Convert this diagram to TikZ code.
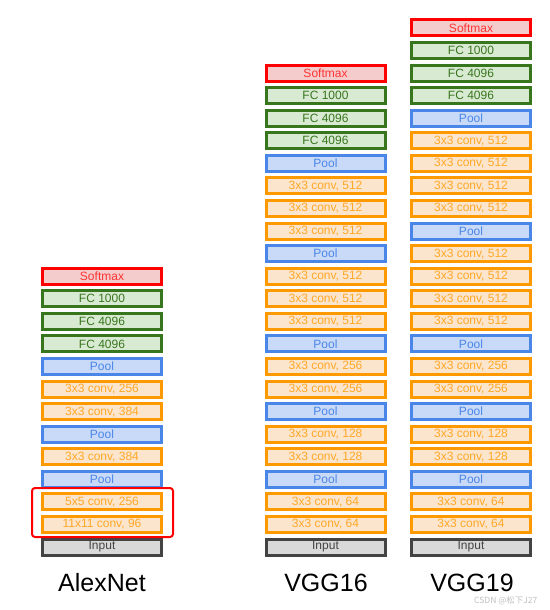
\documentclass[tikz,border=0pt]{standalone}
\usepackage{fontspec}
\setmainfont{Liberation Sans}
\newfontfamily\cjk{Noto Sans CJK SC}
\definecolor{convB}{HTML}{FF9900}
\definecolor{convF}{HTML}{FCE5CD}
\definecolor{poolB}{HTML}{4A86E8}
\definecolor{poolF}{HTML}{C9DAF8}
\definecolor{fcB}{HTML}{38761D}
\definecolor{fcF}{HTML}{D9EAD3}
\definecolor{smB}{HTML}{FF0000}
\definecolor{smF}{HTML}{F4CCCC}
\definecolor{inB}{HTML}{434343}
\definecolor{inF}{HTML}{D9D9D9}
\tikzset{
  layer/.style={rectangle, line width=3pt, minimum width=119pt, minimum height=16pt,
    inner sep=0pt, font=\fontsize{12}{12}\selectfont},
  conv/.style={layer, draw=convB, fill=convF, text=convB!85!white},
  pool/.style={layer, draw=poolB, fill=poolF, text=poolB},
  fc/.style={layer, draw=fcB, fill=fcF, text=fcB},
  soft/.style={layer, draw=smB, fill=smF, text=smB!80!white},
  inp/.style={layer, draw=inB, fill=inF, text=inB},
  title/.style={font=\fontsize{25}{25}\selectfont, text=black, inner sep=0pt},
  hilite/.style={rectangle, draw=red, line width=2pt, rounded corners=3pt,
    minimum width=141pt, minimum height=49pt, inner sep=0pt},
  wmark/.style={font=\cjk\fontsize{8.5}{8.5}\selectfont, text=black!25, inner sep=0pt, anchor=west}
}
\newcommand\lyr[5]{\node[#4] (#1) at (#2,{547-22.57*#3}) {#5};}
\begin{document}
\begin{tikzpicture}[x=1pt,y=-1pt]
\useasboundingbox (0,0) rectangle (549,610);
% AlexNet
\lyr{a0}{102}{0}{inp}{Input}
\lyr{a1}{102}{1}{conv}{11x11 conv, 96}
\lyr{a2}{102}{2}{conv}{5x5 conv, 256}
\lyr{a3}{102}{3}{pool}{Pool}
\lyr{a4}{102}{4}{conv}{3x3 conv, 384}
\lyr{a5}{102}{5}{pool}{Pool}
\lyr{a6}{102}{6}{conv}{3x3 conv, 384}
\lyr{a7}{102}{7}{conv}{3x3 conv, 256}
\lyr{a8}{102}{8}{pool}{Pool}
\lyr{a9}{102}{9}{fc}{FC 4096}
\lyr{a10}{102}{10}{fc}{FC 4096}
\lyr{a11}{102}{11}{fc}{FC 1000}
\lyr{a12}{102}{12}{soft}{Softmax}
\node[hilite] (hl) at (102.5,512.5) {};
% VGG16
\lyr{v0}{325.5}{0}{inp}{Input}
\lyr{v1}{325.5}{1}{conv}{3x3 conv, 64}
\lyr{v2}{325.5}{2}{conv}{3x3 conv, 64}
\lyr{v3}{325.5}{3}{pool}{Pool}
\lyr{v4}{325.5}{4}{conv}{3x3 conv, 128}
\lyr{v5}{325.5}{5}{conv}{3x3 conv, 128}
\lyr{v6}{325.5}{6}{pool}{Pool}
\lyr{v7}{325.5}{7}{conv}{3x3 conv, 256}
\lyr{v8}{325.5}{8}{conv}{3x3 conv, 256}
\lyr{v9}{325.5}{9}{pool}{Pool}
\lyr{v10}{325.5}{10}{conv}{3x3 conv, 512}
\lyr{v11}{325.5}{11}{conv}{3x3 conv, 512}
\lyr{v12}{325.5}{12}{conv}{3x3 conv, 512}
\lyr{v13}{325.5}{13}{pool}{Pool}
\lyr{v14}{325.5}{14}{conv}{3x3 conv, 512}
\lyr{v15}{325.5}{15}{conv}{3x3 conv, 512}
\lyr{v16}{325.5}{16}{conv}{3x3 conv, 512}
\lyr{v17}{325.5}{17}{pool}{Pool}
\lyr{v18}{325.5}{18}{fc}{FC 4096}
\lyr{v19}{325.5}{19}{fc}{FC 4096}
\lyr{v20}{325.5}{20}{fc}{FC 1000}
\lyr{v21}{325.5}{21}{soft}{Softmax}
% VGG19
\lyr{w0}{471}{0}{inp}{Input}
\lyr{w1}{471}{1}{conv}{3x3 conv, 64}
\lyr{w2}{471}{2}{conv}{3x3 conv, 64}
\lyr{w3}{471}{3}{pool}{Pool}
\lyr{w4}{471}{4}{conv}{3x3 conv, 128}
\lyr{w5}{471}{5}{conv}{3x3 conv, 128}
\lyr{w6}{471}{6}{pool}{Pool}
\lyr{w7}{471}{7}{conv}{3x3 conv, 256}
\lyr{w8}{471}{8}{conv}{3x3 conv, 256}
\lyr{w9}{471}{9}{pool}{Pool}
\lyr{w10}{471}{10}{conv}{3x3 conv, 512}
\lyr{w11}{471}{11}{conv}{3x3 conv, 512}
\lyr{w12}{471}{12}{conv}{3x3 conv, 512}
\lyr{w13}{471}{13}{conv}{3x3 conv, 512}
\lyr{w14}{471}{14}{pool}{Pool}
\lyr{w15}{471}{15}{conv}{3x3 conv, 512}
\lyr{w16}{471}{16}{conv}{3x3 conv, 512}
\lyr{w17}{471}{17}{conv}{3x3 conv, 512}
\lyr{w18}{471}{18}{conv}{3x3 conv, 512}
\lyr{w19}{471}{19}{pool}{Pool}
\lyr{w20}{471}{20}{fc}{FC 4096}
\lyr{w21}{471}{21}{fc}{FC 4096}
\lyr{w22}{471}{22}{fc}{FC 1000}
\lyr{w23}{471}{23}{soft}{Softmax}
% titles
\node[title] (ta) at (102,583) {AlexNet};
\node[title] (tv) at (326,583) {VGG16};
\node[title] (tw) at (472,583) {VGG19};
\node[wmark] (wm) at (474,601) {CSDN @松下J27};
\end{tikzpicture}
\end{document}
